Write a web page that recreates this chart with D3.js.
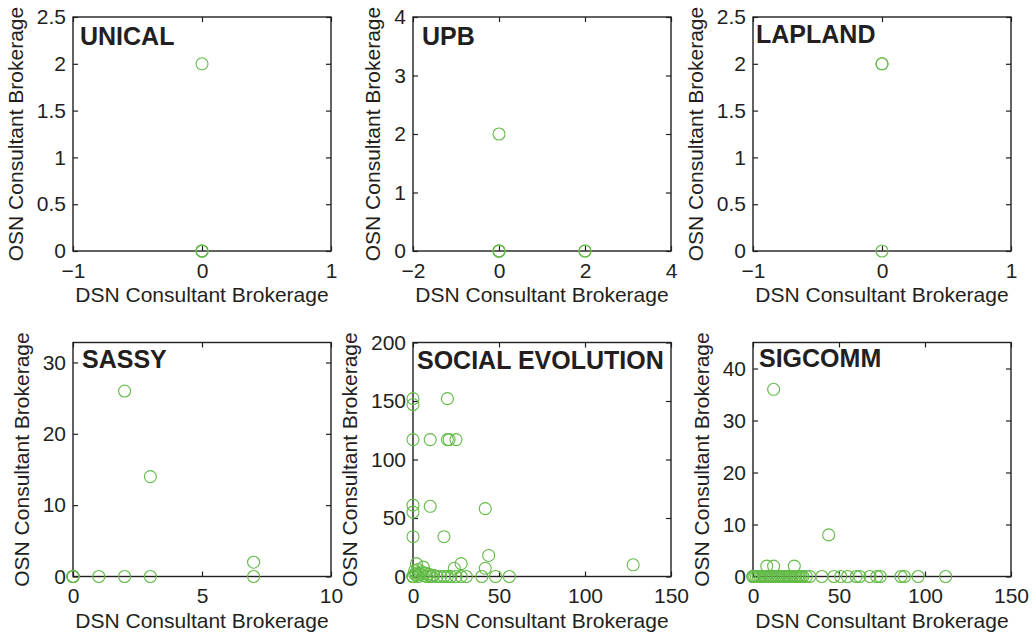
<!DOCTYPE html>
<html>
<head>
<meta charset="utf-8">
<script src="https://cdn.jsdelivr.net/npm/d3@7"></script>
<style>
  body { margin: 0; background: #fff; }
  svg text { font-family: "Liberation Sans", Arial, Helvetica, sans-serif; fill: #231f20; }
</style>
</head>
<body>
<svg id="chart" width="1033" height="634"></svg>
<script>
/// Data ///
const panelNames = ["UNICAL", "UPB", "LAPLAND", "SASSY", "SOCIAL EVOLUTION", "SIGCOMM"];

// axis limits
const xLimits = [[-1, 1], [-2, 4], [-1, 1], [0, 10], [0, 150], [0, 150]];
const yLimits = [[0, 2.5], [0, 4], [0, 2.5], [0, 32.8], [0, 200], [0, 45]];

// tick values
const xTickVals = [[-1, 0, 1], [-2, 0, 2, 4], [-1, 0, 1], [0, 5, 10], [0, 50, 100, 150], [0, 50, 100, 150]];
const yTickVals = [
  [0, 0.5, 1, 1.5, 2, 2.5],
  [0, 1, 2, 3, 4],
  [0, 0.5, 1, 1.5, 2, 2.5],
  [0, 10, 20, 30],
  [0, 50, 100, 150, 200],
  [0, 10, 20, 30, 40]
];

// points: [DSN, OSN]
const unicalPts = [[0, 2], [0, 0], [0, 0], [0, 0]];
const upbPts = [[0, 2], [0, 0], [0, 0], [0, 0], [2, 0], [2, 0]];
const laplandPts = [[0, 2], [0, 2], [0, 0]];
const sassyPts = [[0, 0], [0, 0], [0, 0], [0, 0], [1, 0], [2, 0], [3, 0], [2, 26], [3, 14], [7, 2], [7, 0]];
const socialPts = [
  [0, 152], [0, 147], [20, 152], [0, 117], [10, 117], [20, 117], [21, 117], [25, 117],
  [0, 61], [0, 55], [10, 60], [42, 58], [0, 34], [18, 34], [44, 18], [128, 10],
  [28, 11], [24, 7], [42, 7], [2, 11], [6, 8],
  [0, 0], [0, 0], [0, 0], [1, 2], [1, 5], [2, 1], [2, 3], [3, 0], [3, 6], [4, 2], [5, 4],
  [6, 1], [7, 3], [8, 0], [9, 2], [10, 0], [11, 0], [12, 1], [14, 0], [16, 0], [18, 0],
  [20, 0], [22, 0], [25, 0], [28, 0], [31, 0], [40, 0], [48, 0], [56, 0]
];
const sigcommPts = [
  [12, 36], [44, 8], [8, 2], [12, 2], [24, 2],
  [0, 0], [0, 0], [0, 0], [1, 0], [2, 0], [3, 0], [4, 0], [5, 0], [6, 0], [7, 0], [8, 0],
  [9, 0], [10, 0], [11, 0], [12, 0], [13, 0], [14, 0], [15, 0], [16, 0], [17, 0], [18, 0],
  [19, 0], [20, 0], [21, 0], [22, 0], [23, 0], [24, 0], [25, 0], [26, 0], [27, 0], [28, 0],
  [29, 0], [31, 0], [33, 0], [40, 0], [47, 0], [51, 0], [55, 0], [60, 0], [62, 0], [68, 0],
  [72, 0], [74, 0], [86, 0], [88, 0], [96, 0], [112, 0]
];
const allPts = [unicalPts, upbPts, laplandPts, sassyPts, socialPts, sigcommPts];

/// Layout ///
const colLeft = [73, 413, 753];
const rowTop = [17, 342.5];
const plotW = 258, plotH = 234;
// title offset from the plot corner
const titleOffset = [[7, 28], [9, 28], [3, 26], [9, 25], [4, 26], [6, 24]];

const green = "#62bb46";
const ink = "#231f20";

const svg = d3.select("#chart");

function drawPanel(i) {
  const left = colLeft[i % 3];
  const top = rowTop[Math.floor(i / 3)];

  const x = d3.scaleLinear().domain(xLimits[i]).range([0, plotW]);
  const y = d3.scaleLinear().domain(yLimits[i]).range([plotH, 0]);
  const fmt = d3.format("");

  const g = svg.append("g").attr("transform", "translate(" + left + "," + top + ")");

  // axes, ticks pointing inward (matlab style)
  const bottom = g.append("g").attr("transform", "translate(0," + plotH + ")")
    .call(d3.axisBottom(x).tickValues(xTickVals[i]).tickFormat(fmt).tickSizeInner(-5).tickSizeOuter(0).tickPadding(12));
  const leftAx = g.append("g")
    .call(d3.axisLeft(y).tickValues(yTickVals[i]).tickFormat(fmt).tickSizeInner(-5).tickSizeOuter(0).tickPadding(7));
  g.append("g")
    .call(d3.axisTop(x).tickValues(xTickVals[i]).tickFormat("").tickSizeInner(-5).tickSizeOuter(0));
  g.append("g").attr("transform", "translate(" + plotW + ",0)")
    .call(d3.axisRight(y).tickValues(yTickVals[i]).tickFormat("").tickSizeInner(-5).tickSizeOuter(0));

  g.selectAll(".domain").remove();
  g.selectAll(".tick line").attr("stroke", ink).attr("stroke-width", 1.2);
  g.selectAll(".tick text").attr("font-size", 21).attr("fill", ink)
    .style("font-family", "'Liberation Sans', Arial, sans-serif");

  // box
  g.append("rect")
    .attr("width", plotW).attr("height", plotH)
    .attr("fill", "none").attr("stroke", ink).attr("stroke-width", 1.4);

  // points
  g.selectAll("circle.pt")
    .data(allPts[i])
    .enter().append("circle")
      .attr("class", "pt")
      .attr("cx", d => x(d[0]))
      .attr("cy", d => y(d[1]))
      .attr("r", 6)
      .attr("fill", "none")
      .attr("stroke", green)
      .attr("stroke-width", 1.1);

  // title
  g.append("text")
    .attr("x", titleOffset[i][0]).attr("y", titleOffset[i][1])
    .attr("font-size", 25).attr("font-weight", "bold")
    .text(panelNames[i]);

  // axis labels
  g.append("text")
    .attr("x", plotW / 2).attr("y", plotH + 51)
    .attr("text-anchor", "middle").attr("font-size", 21)
    .text("DSN Consultant Brokerage");

  let maxW = 0;
  leftAx.selectAll(".tick text").each(function() {
    maxW = Math.max(maxW, this.getBBox().width);
  });
  const lx = -(7 + maxW + 14);
  g.append("text")
    .attr("transform", "translate(" + lx + "," + (plotH / 2) + ") rotate(-90)")
    .attr("text-anchor", "middle").attr("font-size", 21)
    .text("OSN Consultant Brokerage");
}

for (let i = 0; i < panelNames.length; i++) {
  drawPanel(i);
}
</script>
</body>
</html>
